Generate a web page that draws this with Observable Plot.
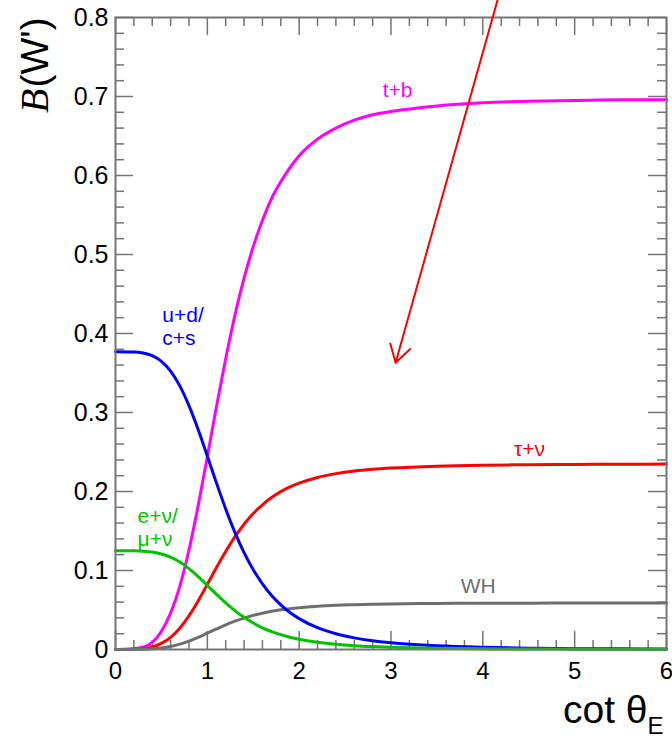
<!DOCTYPE html>
<html>
<head>
<meta charset="utf-8">
<script src="https://cdn.jsdelivr.net/npm/d3@7"></script>
<script src="https://cdn.jsdelivr.net/npm/@observablehq/plot@0.6"></script>
<style>
  html, body { margin: 0; padding: 0; background: #fff; }
</style>
</head>
<body>
<div id="chart"></div>
<script>
// ---- data ----
const cotTheta = [0, 0.2, 0.3, 0.4, 0.5, 0.6, 0.7, 0.8, 0.9, 1.0, 1.1, 1.2, 1.3, 1.4, 1.5, 1.6, 1.7, 1.8, 1.9, 2.0, 2.2, 2.4, 2.6, 2.8, 3.0, 3.5, 4.0, 4.5, 5.0, 5.5, 6.0];
const brTB   = [0, 0.001, 0.003, 0.009, 0.023, 0.046, 0.080, 0.126, 0.182, 0.244, 0.308, 0.368, 0.423, 0.470, 0.510, 0.543, 0.571, 0.592, 0.610, 0.625, 0.646, 0.660, 0.670, 0.677, 0.681, 0.688, 0.692, 0.694, 0.695, 0.696, 0.696];
const brTauNu= [0, 0.0002, 0.001, 0.0032, 0.0077, 0.0154, 0.027, 0.0426, 0.0615, 0.0824, 0.1038, 0.1241, 0.1426, 0.1586, 0.1721, 0.1832, 0.1923, 0.1998, 0.2058, 0.2106, 0.2178, 0.2226, 0.2259, 0.2281, 0.2297, 0.2321, 0.2333, 0.2339, 0.2343, 0.2345, 0.2347];
const brWH   = [0, 0.0001, 0.0003, 0.0008, 0.0019, 0.0039, 0.0068, 0.0107, 0.0154, 0.0207, 0.0260, 0.0312, 0.0358, 0.0398, 0.0432, 0.0460, 0.0483, 0.0502, 0.0517, 0.0529, 0.0547, 0.0559, 0.0567, 0.0573, 0.0577, 0.0583, 0.0586, 0.0587, 0.0588, 0.0589, 0.0589];
const brUD   = [0.377, 0.3767, 0.3754, 0.3719, 0.3647, 0.3523, 0.3337, 0.3087, 0.2784, 0.2448, 0.2106, 0.1779, 0.1483, 0.1226, 0.1010, 0.0831, 0.0684, 0.0566, 0.0469, 0.0391, 0.0276, 0.0199, 0.0147, 0.0110, 0.0084, 0.0046, 0.0027, 0.0017, 0.0011, 0.0008, 0.0005];
const brENu  = [0.125, 0.1249, 0.1245, 0.1233, 0.1209, 0.1168, 0.1107, 0.1024, 0.0923, 0.0812, 0.0698, 0.0590, 0.0492, 0.0407, 0.0335, 0.0275, 0.0227, 0.0188, 0.0156, 0.0130, 0.0092, 0.0066, 0.0049, 0.0037, 0.0028, 0.0015, 0.0009, 0.0006, 0.0004, 0.0003, 0.0002];

const seriesNames  = ["t+b", "τ+ν", "WH", "u+d/c+s", "e+ν/μ+ν"];
const seriesColors = ["#ff00ff", "#ff0000", "#6e6e6e", "#0000ff", "#00c400"];
const seriesValues = [brTB, brTauNu, brWH, brUD, brENu];

const xTicks = [0, 1, 2, 3, 4, 5, 6];
const xTickLabels = ["0", "1", "2", "3", "4", "5", "6"];
const yTicks = [0, 0.1, 0.2, 0.3, 0.4, 0.5, 0.6, 0.7, 0.8];
const yTickLabels = ["0", "0.1", "0.2", "0.3", "0.4", "0.5", "0.6", "0.7", "0.8"];

// in-plot curve labels (anchor = baseline of last line, data units)
const curveLabels = [
  {text: "t+b",         x: 2.91, y: 0.699, series: 0},
  {text: "τ+ν",         x: 4.34, y: 0.245, series: 1},
  {text: "WH",          x: 3.76, y: 0.072, series: 2},
  {text: "u+d/\nc+s",   x: 0.51, y: 0.385, series: 3},
  {text: "e+ν/\nμ+ν",   x: 0.24, y: 0.131, series: 4}
];

// hand-drawn red annotation arrow
const arrowAnno = [{x1: 4.16, y1: 0.822, x2: 3.05, y2: 0.363}];

// ---- build ----
const rows = [];
seriesValues.forEach((vals, s) => vals.forEach((v, i) => rows.push({x: cotTheta[i], y: v, s})));

const W = 672, H = 738, mL = 115, mR = 6, mT = 17, mB = 89;
const pw = W - mL - mR, ph = H - mT - mB;
const majorLen = 18, minorLen = 9;
const grey = "#747474";

const xMinor = d3.range(0, 6.0001, 0.2).map(v => +v.toFixed(2)).filter(v => Math.abs(v - Math.round(v)) > 1e-6);
const yMinor = d3.range(0, 0.8001, 0.02).map(v => +v.toFixed(3)).filter(v => Math.abs(v * 10 - Math.round(v * 10)) > 1e-6);

const chart = Plot.plot({
  width: W, height: H,
  marginLeft: mL, marginRight: mR, marginTop: mT, marginBottom: mB,
  style: {fontFamily: "'Liberation Sans', Arial, Helvetica, sans-serif", background: "#fff", overflow: "visible"},
  x: {domain: [0, 6]},
  y: {domain: [0, 0.8]},
  marks: [
    // ticks (inside, mirrored on all four sides)
    Plot.tickX(xTicks, {x: d => d, insetTop: ph - majorLen, stroke: grey, strokeWidth: 1.5}),
    Plot.tickX(xMinor, {x: d => d, insetTop: ph - minorLen, stroke: grey, strokeWidth: 1.5}),
    Plot.tickX(xTicks, {x: d => d, insetBottom: ph - majorLen, stroke: grey, strokeWidth: 1.5}),
    Plot.tickX(xMinor, {x: d => d, insetBottom: ph - minorLen, stroke: grey, strokeWidth: 1.5}),
    Plot.tickY(yTicks, {y: d => d, insetRight: pw - majorLen, stroke: grey, strokeWidth: 1.5}),
    Plot.tickY(yMinor, {y: d => d, insetRight: pw - minorLen, stroke: grey, strokeWidth: 1.5}),
    Plot.tickY(yTicks, {y: d => d, insetLeft: pw - majorLen, stroke: grey, strokeWidth: 1.5}),
    Plot.tickY(yMinor, {y: d => d, insetLeft: pw - minorLen, stroke: grey, strokeWidth: 1.5}),
    // curves
    ...seriesValues.map((_, s) => Plot.line(rows.filter(r => r.s === s), {
      x: "x", y: "y", stroke: seriesColors[s], strokeWidth: 3, curve: "monotone-x"
    })),
    // frame
    Plot.frame({stroke: grey, strokeWidth: 2}),
    // axes labels
    Plot.axisX(xTicks, {tickSize: 0, tickPadding: 12, fontSize: 24, fill: "#000",
      tickFormat: d => xTickLabels[xTicks.indexOf(d)], label: null}),
    Plot.axisY(yTicks, {tickSize: 0, tickPadding: 7, fontSize: 25, fill: "#000",
      tickFormat: d => yTickLabels[yTicks.indexOf(d)], label: null}),
    // curve labels
    Plot.text(curveLabels, {x: "x", y: "y", text: "text", fill: d => seriesColors[d.series],
      textAnchor: "start", lineAnchor: "bottom", lineHeight: 1.1, fontSize: 21}),
    // axis titles
    Plot.text(["cot θ"], {frameAnchor: "bottom-right", textAnchor: "end", lineAnchor: "bottom",
      dx: -19, dy: 73, fontSize: 39, fill: "#000"}),
    Plot.text(["E"], {frameAnchor: "bottom-right", textAnchor: "end", lineAnchor: "bottom",
      dx: -3, dy: 84, fontSize: 24, fill: "#000"}),
    Plot.text(["B"], {frameAnchor: "top-left", rotate: -90, textAnchor: "end", lineAnchor: "middle",
      dx: -80, dy: 71, fontSize: 40, fontStyle: "italic", fontFamily: "'Liberation Serif', 'Times New Roman', serif", fill: "#000"}),
    Plot.text(["(W')"], {frameAnchor: "top-left", rotate: -90, textAnchor: "start", lineAnchor: "middle",
      dx: -80, dy: 70, fontSize: 39, fill: "#000"}),
    // red annotation arrow
    Plot.arrow(arrowAnno, {x1: "x1", y1: "y1", x2: "x2", y2: "y2", stroke: "#ff0000",
      strokeWidth: 2, headLength: 15, headAngle: 62, clip: false})
  ]
});
document.getElementById("chart").appendChild(chart);
</script>
</body>
</html>
